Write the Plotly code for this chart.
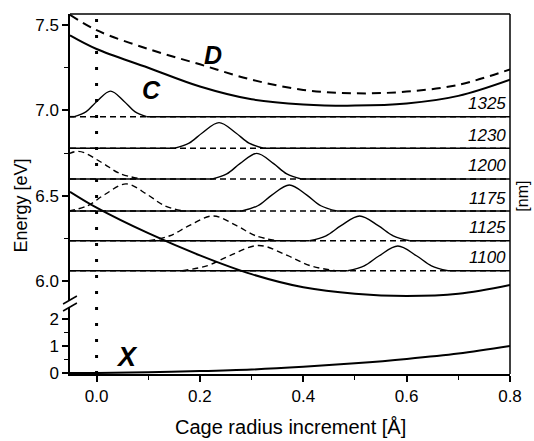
import plotly.graph_objects as go

# ---- axis extents -------------------------------------------------------
x_lo, x_hi = -0.0514, 0.8
low_range = [-0.037, 2.444]      # lower panel (ground state X)
up_range = [5.8886, 7.565]       # upper panel (excited states)

# ---- potential curves (Å increment vs eV) ---------------------------------
curve_x = [-0.0514, 0.0, 0.1, 0.2, 0.3, 0.4, 0.5, 0.6, 0.7, 0.8]
curve_C = [7.44, 7.36, 7.25, 7.14, 7.065, 7.035, 7.028, 7.04, 7.085, 7.18]
curve_D = [7.56, 7.47, 7.36, 7.27, 7.18, 7.12, 7.10, 7.11, 7.15, 7.24]
curve_A = [6.523, 6.43, 6.28, 6.15, 6.04, 5.963, 5.925, 5.912, 5.925, 5.977]
curve_X = [0.0, 0.0, 0.03, 0.07, 0.13, 0.23, 0.36, 0.52, 0.72, 1.0]

# ---- stacked spectra, one baseline per wavelength --------------------------
wavelengths = [1325, 1230, 1200, 1175, 1125, 1100]
baselines = [6.963, 6.778, 6.598, 6.410, 6.236, 6.060]

solid_peak_x = [
    [-0.043, -0.020, 0.001, 0.027, 0.053, 0.074, 0.097],
    [0.151, 0.179, 0.205, 0.237, 0.269, 0.295, 0.323],
    [0.224, 0.252, 0.278, 0.310, 0.342, 0.368, 0.396],
    [0.281, 0.312, 0.339, 0.373, 0.407, 0.434, 0.465],
    [0.412, 0.444, 0.473, 0.509, 0.545, 0.574, 0.606],
    [0.486, 0.518, 0.547, 0.583, 0.619, 0.648, 0.680],
]
solid_peak_y = [
    [6.963, 6.993, 7.054, 7.113, 7.054, 6.993, 6.963],
    [6.778, 6.808, 6.869, 6.928, 6.869, 6.808, 6.778],
    [6.598, 6.628, 6.689, 6.748, 6.689, 6.628, 6.598],
    [6.410, 6.441, 6.503, 6.563, 6.503, 6.441, 6.410],
    [6.236, 6.265, 6.324, 6.381, 6.324, 6.265, 6.236],
    [6.060, 6.089, 6.148, 6.205, 6.148, 6.089, 6.060],
]

# dashed spectra (None where the trace stays on its baseline)
dashed_peak_x = [
    None,
    None,
    [-0.158, -0.117, -0.081, -0.036, 0.009, 0.045, 0.086],
    [-0.054, -0.017, 0.016, 0.057, 0.098, 0.131, 0.168],
    [0.101, 0.142, 0.179, 0.225, 0.271, 0.308, 0.349],
    [0.166, 0.215, 0.259, 0.314, 0.369, 0.413, 0.463],
]
dashed_peak_y = [
    None,
    None,
    [6.598, 6.630, 6.696, 6.760, 6.696, 6.630, 6.598],
    [6.410, 6.442, 6.507, 6.569, 6.507, 6.442, 6.410],
    [6.236, 6.265, 6.324, 6.381, 6.324, 6.265, 6.236],
    [6.060, 6.090, 6.150, 6.208, 6.150, 6.090, 6.060],
]

# ---- curve labels ---------------------------------------------------------
state_labels = ["C", "D", "A", "X"]
state_label_x = [0.107, 0.225, 0.749, 0.059]
state_label_y = [7.12, 7.325, 5.86, 0.6]
state_label_axis = ["y2", "y2", "y2", "y"]
state_label_size = [25, 25, 27, 27]

FONT = "Liberation Sans, Arial, sans-serif"
BLACK = "black"

fig = go.Figure()


def add_line(x, y, axis, width, dash="solid", shape="linear"):
    fig.add_trace(go.Scatter(
        x=x, y=y, mode="lines", xaxis="x", yaxis=axis,
        line=dict(color=BLACK, width=width, dash=dash, shape=shape, smoothing=1.0),
        hoverinfo="skip", showlegend=False,
    ))


# spectra baselines and peaks
for i, b in enumerate(baselines):
    # dashed baseline across the full width
    add_line([x_lo, x_hi], [b, b], "y2", 1.4, dash="6px,4px")
    # solid baseline, interrupted where the solid peak rises
    sx = solid_peak_x[i]
    add_line([x_lo, sx[0], None, sx[-1], x_hi], [b, b, None, b, b], "y2", 1.6)
    add_line(sx, solid_peak_y[i], "y2", 1.4, shape="spline")
    if dashed_peak_x[i] is not None:
        add_line(dashed_peak_x[i], dashed_peak_y[i], "y2", 1.4,
                 dash="6px,4px", shape="spline")

# potential curves
add_line(curve_x, curve_D, "y2", 2.0, dash="9px,6px", shape="spline")
add_line(curve_x, curve_C, "y2", 2.0, shape="spline")
add_line(curve_x, curve_A, "y2", 2.0, shape="spline")
add_line(curve_x, curve_X, "y", 2.0, shape="spline")

annotations = []
for lab, lx, ly, ax, fs in zip(state_labels, state_label_x, state_label_y,
                               state_label_axis, state_label_size):
    annotations.append(dict(
        x=lx, y=ly, xref="x", yref=ax, text=f"<b><i>{lab}</i></b>",
        showarrow=False, font=dict(family=FONT, size=fs, color=BLACK),
        xanchor="center", yanchor="middle",
    ))

for wl, b in zip(wavelengths, baselines):
    annotations.append(dict(
        x=0.797, y=b, xref="x", yref="y2", text=f"<i>{wl}</i>",
        showarrow=False, font=dict(family=FONT, size=17, color=BLACK),
        xanchor="right", yanchor="middle", yshift=13,
    ))

annotations += [
    dict(x=-0.112, y=0.467, xref="paper", yref="paper", text="Energy [eV]",
         textangle=-90, showarrow=False,
         font=dict(family=FONT, size=18, color=BLACK),
         xanchor="center", yanchor="middle"),
    dict(x=0.5, y=-0.147, xref="paper", yref="paper",
         text="Cage radius increment [Å]", showarrow=False,
         font=dict(family=FONT, size=20, color=BLACK),
         xanchor="center", yanchor="middle"),
    dict(x=1.0, y=0.494, xref="paper", yref="paper", text="[nm]",
         textangle=-90, showarrow=False, xshift=2,
         font=dict(family=FONT, size=16, color=BLACK),
         xanchor="left", yanchor="middle"),
]

shapes = [
    # dotted marker at zero increment, through both panels
    dict(type="line", xref="x", yref="paper", x0=0, x1=0, y0=0, y1=1,
         line=dict(color=BLACK, width=3, dash="3px,13px")),
    # right and top frame
    dict(type="line", xref="paper", yref="paper", x0=1, x1=1, y0=0, y1=1,
         line=dict(color=BLACK, width=1.5)),
    dict(type="line", xref="paper", yref="paper", x0=0, x1=1, y0=1, y1=1,
         line=dict(color=BLACK, width=1.5)),
    # axis-break marks
    dict(type="line", xref="paper", yref="paper",
         x0=-0.0157, y0=0.1944, x1=0.0157, y1=0.2167,
         line=dict(color=BLACK, width=1.5)),
    dict(type="line", xref="paper", yref="paper",
         x0=-0.0157, y0=0.175, x1=0.0157, y1=0.1972,
         line=dict(color=BLACK, width=1.5)),
]

tick_font = dict(family=FONT, size=17, color=BLACK)
axis_common = dict(showgrid=False, zeroline=False, showline=True,
                   linecolor=BLACK, linewidth=1.5, ticks="outside",
                   tickcolor=BLACK, tickwidth=1.5, ticklen=6,
                   tickfont=tick_font)

fig.update_layout(
    width=534, height=441,
    margin=dict(l=70, r=17, t=14, b=67),
    paper_bgcolor="white", plot_bgcolor="white",
    showlegend=False,
    xaxis=dict(range=[x_lo, x_hi], anchor="y",
               tickvals=[0.0, 0.2, 0.4, 0.6, 0.8], tickformat=".1f",
               minor=dict(ticks="outside", dtick=0.1, tick0=0, ticklen=4,
                          tickcolor=BLACK, tickwidth=1.2),
               **axis_common),
    yaxis=dict(domain=[0, 0.1861], range=low_range, anchor="x",
               tickvals=[0, 1, 2],
               minor=dict(ticks="outside", dtick=0.5, tick0=0, ticklen=4,
                          tickcolor=BLACK, tickwidth=1.2),
               **axis_common),
    yaxis2=dict(domain=[0.2056, 1], range=up_range, anchor="x",
                tickvals=[6.0, 6.5, 7.0, 7.5], tickformat=".1f",
                minor=dict(ticks="outside", dtick=0.25, tick0=6.0, ticklen=4,
                           tickcolor=BLACK, tickwidth=1.2),
                **axis_common),
    annotations=annotations,
    shapes=shapes,
)

fig.write_html("out.html")
